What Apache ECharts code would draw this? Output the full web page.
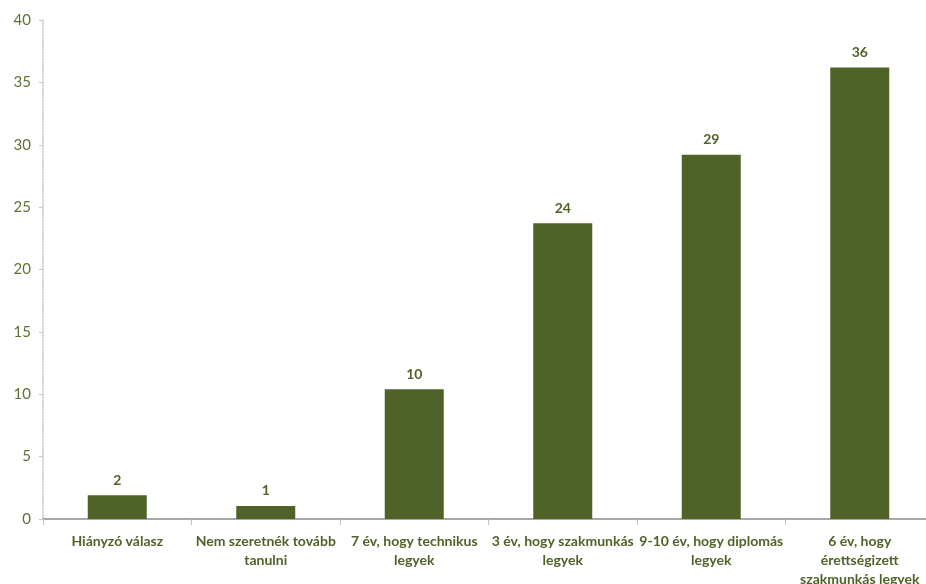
<!DOCTYPE html>
<html>
<head>
<meta charset="utf-8">
<script src="https://cdn.jsdelivr.net/npm/echarts@6/dist/echarts.min.js"></script>
<style>
html,body{margin:0;padding:0;background:#fff;}
#c{width:926px;height:584px;}
</style>
</head>
<body>
<div id="c"></div>
<script>
const categories = [
  "Hiányzó válasz",
  "Nem szeretnék tovább\ntanulni",
  "7 év, hogy technikus\nlegyek",
  "3 év, hogy szakmunkás\nlegyek",
  "9-10 év, hogy diplomás\nlegyek",
  "6 év, hogy\nérettségizett\nszakmunkás legyek"
];
const values = [1.9, 1.05, 10.4, 23.7, 29.2, 36.2];
const labels = ["2", "1", "10", "24", "29", "36"];
const yTicks = [0, 5, 10, 15, 20, 25, 30, 35, 40];

const chart = echarts.init(document.getElementById('c'));
const font = 'Lato, "Open Sans", sans-serif';
chart.setOption({
  animation: false,
  grid: { left: 43, right: -8, top: 20, bottom: 65, containLabel: false, outerBoundsMode: 'none' },
  xAxis: {
    type: 'category',
    data: categories,
    boundaryGap: true,
    axisLine: { show: true, lineStyle: { color: '#8c8c8c', width: 1.5 } },
    axisTick: { show: true, alignWithLabel: false, length: 6, lineStyle: { color: '#bfbfbf' } },
    axisLabel: {
      interval: 0, color: '#4f6228', fontFamily: font, fontWeight: 'bold',
      fontSize: 14, lineHeight: 19, margin: 13
    }
  },
  yAxis: {
    type: 'value',
    min: yTicks[0], max: yTicks[yTicks.length - 1], interval: 5,
    axisLine: { show: true, lineStyle: { color: '#c8c8c8', type: 'dotted', width: 1.5 } },
    axisTick: { show: true, length: 4, lineStyle: { color: '#c8c8c8' } },
    splitLine: { show: false },
    axisLabel: { color: '#5f7034', fontFamily: font, fontSize: 15, margin: 12 }
  },
  series: [{
    type: 'bar',
    data: values,
    barWidth: 59,
    itemStyle: { color: '#4f6228' },
    label: {
      show: true, position: 'top', distance: 8,
      color: '#4f6228', fontFamily: font, fontWeight: 'bold', fontSize: 14,
      formatter: p => labels[p.dataIndex]
    }
  }]
});
</script>
</body>
</html>
